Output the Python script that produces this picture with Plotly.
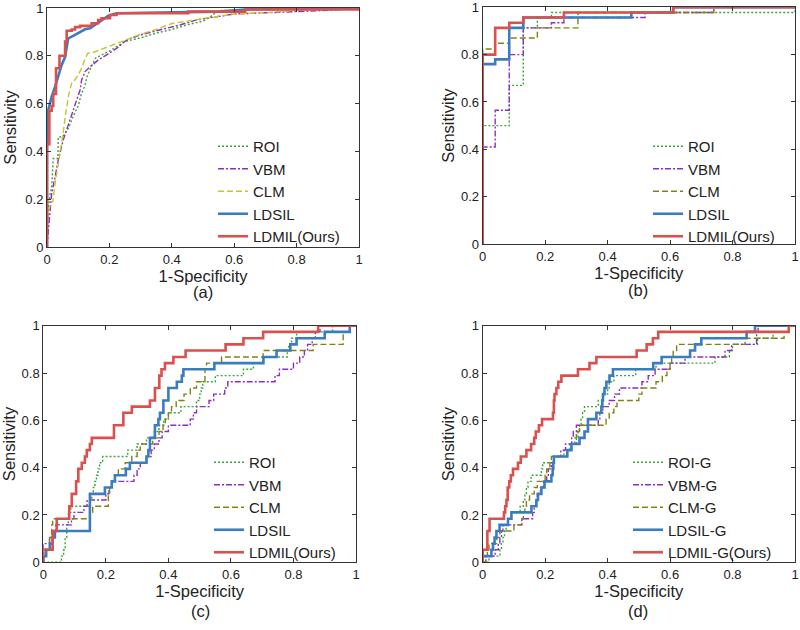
import plotly.graph_objects as go

# ---------------- data ----------------
methods = ["ROI", "VBM", "CLM", "LDSIL", "LDMIL(Ours)"]
methods_g = ["ROI-G", "VBM-G", "CLM-G", "LDSIL-G", "LDMIL-G(Ours)"]
panel_labels = ["(a)", "(b)", "(c)", "(d)"]
tick_vals = [0, 0.2, 0.4, 0.6, 0.8, 1]
tick_text = ["0", "0.2", "0.4", "0.6", "0.8", "1"]

# panel (a)
a_roi_x = [0, 0.003, 0.01, 0.015, 0.02, 0.035, 0.036, 0.047, 0.055, 0.07, 0.085, 0.1, 0.11, 0.12, 0.13, 0.14, 0.155, 0.17, 0.2, 0.25, 0.3, 0.35, 0.4, 0.45, 0.5, 0.52, 0.54, 0.56, 0.7, 0.8, 0.9, 1.0]
a_roi_y = [0, 0.15, 0.22, 0.25, 0.37, 0.37, 0.46, 0.46, 0.47, 0.5, 0.55, 0.59, 0.64, 0.67, 0.72, 0.75, 0.79, 0.8, 0.82, 0.86, 0.875, 0.895, 0.91, 0.93, 0.945, 0.96, 0.98, 0.99, 0.99, 0.993, 0.996, 1.0]
a_vbm_x = [0, 0.003, 0.009, 0.015, 0.026, 0.036, 0.052, 0.063, 0.079, 0.095, 0.106, 0.111, 0.122, 0.138, 0.164, 0.19, 0.223, 0.255, 0.298, 0.351, 0.426, 0.479, 0.55, 0.6, 0.7, 0.8, 0.9, 1.0]
a_vbm_y = [0, 0.05, 0.141, 0.225, 0.294, 0.364, 0.448, 0.49, 0.552, 0.615, 0.657, 0.699, 0.734, 0.754, 0.782, 0.803, 0.831, 0.866, 0.887, 0.905, 0.929, 0.95, 0.965, 0.975, 0.98, 0.985, 0.99, 1.0]
a_clm_x = [0, 0.003, 0.014, 0.019, 0.025, 0.03, 0.04, 0.05, 0.06, 0.07, 0.08, 0.09, 0.1, 0.11, 0.12, 0.13, 0.15, 0.17, 0.2, 0.25, 0.3, 0.35, 0.4, 0.45, 0.5, 0.55, 0.6, 0.7, 0.8, 0.9, 1.0]
a_clm_y = [0, 0.14, 0.19, 0.19, 0.26, 0.3, 0.37, 0.46, 0.56, 0.64, 0.69, 0.70, 0.72, 0.745, 0.78, 0.81, 0.815, 0.825, 0.84, 0.865, 0.89, 0.91, 0.935, 0.945, 0.955, 0.965, 0.975, 0.98, 0.99, 0.995, 1.0]
a_sil_x = [0, 0, 0.004, 0.015, 0.026, 0.036, 0.047, 0.058, 0.063, 0.068, 0.084, 0.1, 0.122, 0.138, 0.154, 0.175, 0.197, 0.223, 0.3, 0.55, 0.65, 1.0]
a_sil_y = [0, 0.44, 0.573, 0.629, 0.671, 0.72, 0.762, 0.796, 0.838, 0.873, 0.883, 0.894, 0.911, 0.915, 0.929, 0.95, 0.968, 0.978, 0.98, 0.985, 0.995, 1.0]
a_mil_x = [0, 0, 0.0075, 0.015, 0.02, 0.029, 0.04, 0.058, 0.063, 0.079, 0.09, 0.106, 0.143, 0.164, 0.175, 0.202, 0.223, 0.453, 0.635, 1.0]
a_mil_y = [0, 0.43, 0.57, 0.59, 0.64, 0.748, 0.80, 0.86, 0.905, 0.91, 0.92, 0.925, 0.936, 0.95, 0.957, 0.971, 0.978, 0.985, 0.994, 1.0]

# panel (b)  (x = where the step happens, y = sensitivity after the step)
b_roi_x = [0, 0, 0.085, 0.13, 0.175, 0.22, 1.0]
b_roi_y = [0, 0.5, 0.67, 0.913, 0.957, 0.978, 1.0]
b_vbm_x = [0, 0, 0.04, 0.085, 0.13, 0.22, 0.26, 0.52, 0.74, 1.0]
b_vbm_y = [0, 0.41, 0.565, 0.80, 0.913, 0.935, 0.957, 0.978, 1.0, 1.0]
b_clm_x = [0, 0, 0.04, 0.085, 0.175, 0.305, 0.74, 1.0]
b_clm_y = [0, 0.824, 0.848, 0.87, 0.913, 0.978, 1.0, 1.0]
b_sil_x = [0, 0, 0.04, 0.085, 0.13, 0.476, 0.61, 1.0]
b_sil_y = [0, 0.76, 0.78, 0.913, 0.957, 0.978, 1.0, 1.0]
b_mil_x = [0, 0, 0.04, 0.085, 0.13, 0.26, 0.61, 1.0]
b_mil_y = [0, 0.80, 0.913, 0.935, 0.957, 0.978, 1.0, 1.0]

# panel (c)
c_roi_x = [0, 0.058, 0.065, 0.07, 0.075, 0.08, 0.088, 0.15, 0.155, 0.16, 0.165, 0.17, 0.175, 0.18, 0.19, 0.27, 0.3, 0.33, 0.355, 0.37, 0.385, 0.4, 0.44, 0.49, 0.5, 0.505, 0.51, 0.55, 0.64, 0.672, 0.703, 0.78, 0.785, 0.794, 0.81, 0.925, 1.0]
c_roi_y = [0, 0.026, 0.053, 0.105, 0.158, 0.211, 0.237, 0.263, 0.289, 0.316, 0.342, 0.368, 0.395, 0.421, 0.447, 0.474, 0.5, 0.526, 0.553, 0.579, 0.605, 0.632, 0.658, 0.684, 0.711, 0.737, 0.763, 0.789, 0.816, 0.842, 0.868, 0.895, 0.921, 0.947, 0.974, 1.0, 1.0]
c_vbm_x = [0, 0, 0.02, 0.03, 0.04, 0.09, 0.098, 0.13, 0.14, 0.2, 0.21, 0.22, 0.29, 0.3, 0.31, 0.33, 0.345, 0.355, 0.37, 0.38, 0.4, 0.47, 0.48, 0.49, 0.53, 0.545, 0.58, 0.59, 0.741, 0.755, 0.8, 0.82, 0.835, 0.845, 0.86, 0.87, 0.885, 1.0]
c_vbm_y = [0, 0.079, 0.105, 0.132, 0.158, 0.184, 0.211, 0.237, 0.263, 0.289, 0.316, 0.342, 0.368, 0.395, 0.421, 0.447, 0.474, 0.5, 0.526, 0.553, 0.579, 0.605, 0.632, 0.658, 0.684, 0.711, 0.737, 0.763, 0.789, 0.816, 0.842, 0.868, 0.895, 0.921, 0.947, 0.974, 1.0, 1.0]
c_clm_x = [0, 0, 0.01, 0.02, 0.027, 0.03, 0.149, 0.158, 0.208, 0.212, 0.22, 0.229, 0.24, 0.262, 0.283, 0.3, 0.31, 0.35, 0.37, 0.383, 0.39, 0.4, 0.41, 0.425, 0.45, 0.47, 0.49, 0.517, 0.522, 0.57, 0.703, 0.863, 0.959, 0.98, 1.0]
c_clm_y = [0, 0.026, 0.053, 0.105, 0.158, 0.184, 0.211, 0.237, 0.289, 0.316, 0.342, 0.368, 0.395, 0.421, 0.447, 0.474, 0.5, 0.526, 0.553, 0.579, 0.605, 0.632, 0.658, 0.684, 0.711, 0.737, 0.763, 0.816, 0.842, 0.868, 0.895, 0.921, 0.974, 1.0, 1.0]
c_sil_x = [0, 0, 0.009, 0.021, 0.03, 0.037, 0.149, 0.197, 0.219, 0.229, 0.264, 0.277, 0.33, 0.336, 0.341, 0.357, 0.368, 0.373, 0.384, 0.4, 0.427, 0.443, 0.448, 0.547, 0.704, 0.746, 0.79, 0.81, 0.9, 0.98, 1.0]
c_sil_y = [0, 0.026, 0.053, 0.079, 0.105, 0.132, 0.289, 0.316, 0.342, 0.368, 0.395, 0.421, 0.447, 0.474, 0.526, 0.579, 0.605, 0.632, 0.684, 0.737, 0.763, 0.789, 0.816, 0.842, 0.868, 0.895, 0.921, 0.947, 0.974, 1.0, 1.0]
c_mil_x = [0, 0, 0.03, 0.043, 0.083, 0.091, 0.105, 0.112, 0.123, 0.133, 0.139, 0.149, 0.155, 0.226, 0.256, 0.283, 0.341, 0.357, 0.371, 0.378, 0.389, 0.416, 0.455, 0.583, 0.64, 0.703, 0.879, 1.0]
c_mil_y = [0, 0.053, 0.132, 0.184, 0.237, 0.289, 0.342, 0.395, 0.421, 0.447, 0.474, 0.5, 0.526, 0.579, 0.632, 0.658, 0.684, 0.737, 0.789, 0.816, 0.842, 0.868, 0.895, 0.921, 0.947, 0.974, 1.0, 1.0]

# panel (d)
d_roi_x = [0, 0.02, 0.055, 0.06, 0.065, 0.07, 0.075, 0.08, 0.09, 0.12, 0.13, 0.135, 0.14, 0.145, 0.155, 0.188, 0.192, 0.228, 0.26, 0.28, 0.3, 0.305, 0.31, 0.315, 0.32, 0.326, 0.37, 0.385, 0.4, 0.405, 0.42, 0.49, 0.555, 0.744, 0.79, 0.8, 0.88, 0.93, 0.98, 1.0]
d_roi_y = [0, 0.026, 0.053, 0.079, 0.105, 0.132, 0.158, 0.184, 0.211, 0.237, 0.263, 0.289, 0.316, 0.342, 0.368, 0.395, 0.421, 0.447, 0.474, 0.5, 0.526, 0.553, 0.579, 0.605, 0.632, 0.658, 0.684, 0.711, 0.737, 0.763, 0.789, 0.816, 0.842, 0.868, 0.895, 0.921, 0.947, 0.974, 1.0, 1.0]
d_vbm_x = [0, 0.01, 0.04, 0.05, 0.055, 0.06, 0.065, 0.125, 0.16, 0.165, 0.17, 0.175, 0.185, 0.195, 0.205, 0.21, 0.22, 0.228, 0.25, 0.265, 0.285, 0.29, 0.3, 0.37, 0.375, 0.385, 0.405, 0.422, 0.438, 0.51, 0.53, 0.552, 0.6, 0.648, 0.776, 0.797, 0.877, 0.882, 1.0]
d_vbm_y = [0, 0.026, 0.053, 0.079, 0.105, 0.132, 0.158, 0.184, 0.211, 0.237, 0.263, 0.289, 0.316, 0.342, 0.368, 0.395, 0.421, 0.447, 0.474, 0.5, 0.526, 0.553, 0.579, 0.605, 0.632, 0.658, 0.684, 0.711, 0.737, 0.763, 0.789, 0.816, 0.842, 0.868, 0.895, 0.921, 0.974, 1.0, 1.0]
d_clm_x = [0, 0.01, 0.015, 0.02, 0.045, 0.055, 0.1, 0.125, 0.13, 0.135, 0.14, 0.15, 0.165, 0.175, 0.2, 0.205, 0.215, 0.22, 0.27, 0.285, 0.295, 0.3, 0.31, 0.395, 0.405, 0.42, 0.43, 0.5, 0.51, 0.555, 0.575, 0.59, 0.6, 0.605, 0.61, 0.621, 0.84, 0.965, 0.98, 1.0]
d_clm_y = [0, 0.026, 0.053, 0.079, 0.105, 0.132, 0.158, 0.184, 0.211, 0.237, 0.263, 0.289, 0.316, 0.342, 0.368, 0.395, 0.421, 0.447, 0.474, 0.5, 0.526, 0.553, 0.579, 0.605, 0.632, 0.658, 0.684, 0.711, 0.737, 0.763, 0.789, 0.816, 0.842, 0.868, 0.895, 0.921, 0.947, 0.974, 1.0, 1.0]
d_sil_x = [0, 0, 0.028, 0.033, 0.038, 0.044, 0.054, 0.081, 0.092, 0.156, 0.172, 0.177, 0.188, 0.198, 0.22, 0.224, 0.226, 0.228, 0.271, 0.284, 0.31, 0.326, 0.337, 0.364, 0.38, 0.383, 0.385, 0.39, 0.396, 0.406, 0.417, 0.546, 0.573, 0.664, 0.68, 0.7, 0.845, 0.872, 1.0]
d_sil_y = [0, 0.026, 0.053, 0.079, 0.105, 0.132, 0.158, 0.184, 0.211, 0.237, 0.263, 0.289, 0.316, 0.342, 0.368, 0.395, 0.421, 0.447, 0.474, 0.5, 0.526, 0.553, 0.605, 0.632, 0.658, 0.684, 0.711, 0.737, 0.763, 0.789, 0.816, 0.842, 0.868, 0.895, 0.921, 0.947, 0.974, 1.0, 1.0]
d_mil_x = [0, 0, 0.015, 0.022, 0.068, 0.072, 0.076, 0.08, 0.085, 0.09, 0.097, 0.113, 0.122, 0.14, 0.155, 0.165, 0.17, 0.18, 0.19, 0.225, 0.228, 0.23, 0.236, 0.242, 0.252, 0.305, 0.342, 0.364, 0.493, 0.525, 0.545, 0.562, 0.98, 1.0]
d_mil_y = [0, 0.053, 0.132, 0.184, 0.211, 0.237, 0.263, 0.316, 0.342, 0.368, 0.395, 0.421, 0.447, 0.474, 0.5, 0.526, 0.553, 0.579, 0.605, 0.632, 0.684, 0.711, 0.737, 0.763, 0.789, 0.816, 0.842, 0.868, 0.895, 0.921, 0.947, 0.974, 1.0, 1.0]

# ---------------- styling ----------------
FONT = "Liberation Sans, Arial, Helvetica, sans-serif"
C_ROI = "#3aa63a"
C_VBM = "#8e2fc0"
C_CLM_A = "#c3c72c"
C_CLM = "#818114"
C_SIL = "#3a7dbf"
C_MIL = "#d9514e"

styles = [
    dict(color=C_ROI, width=1.4, dash="2px,2px"),
    dict(color=C_VBM, width=1.4, dash="6px,2px,2px,2px"),
    dict(color=C_CLM, width=1.4, dash="6px,3px"),
    dict(color=C_SIL, width=2.6, dash="solid"),
    dict(color=C_MIL, width=2.6, dash="solid"),
]

panels = [
    dict(data=[(a_roi_x, a_roi_y), (a_vbm_x, a_vbm_y), (a_clm_x, a_clm_y), (a_sil_x, a_sil_y), (a_mil_x, a_mil_y)],
         names=methods, shape=["linear", "linear", "linear", "linear", "hv"], clm=C_CLM_A,
         dom_x=[47 / 800, 359 / 800], dom_y=[1 - 247 / 630, 1 - 8 / 630], legend="legend",
         leg_x=213 / 800, leg_y=1 - 130 / 630, lab=(203, 292), ystand=4),
    dict(data=[(b_roi_x, b_roi_y), (b_vbm_x, b_vbm_y), (b_clm_x, b_clm_y), (b_sil_x, b_sil_y), (b_mil_x, b_mil_y)],
         names=methods, shape=["hv"] * 5, clm=C_CLM,
         dom_x=[482.7 / 800, 795 / 800], dom_y=[1 - 244 / 630, 1 - 7.3 / 630], legend="legend2",
         leg_x=648 / 800, leg_y=1 - 130 / 630, lab=(638, 290), ystand=2),
    dict(data=[(c_roi_x, c_roi_y), (c_vbm_x, c_vbm_y), (c_clm_x, c_clm_y), (c_sil_x, c_sil_y), (c_mil_x, c_mil_y)],
         names=methods, shape=["hv"] * 5, clm=C_CLM,
         dom_x=[43.3 / 800, 356 / 800], dom_y=[1 - 562.3 / 630, 1 - 325.7 / 630], legend="legend3",
         leg_x=209 / 800, leg_y=1 - 446 / 630, lab=(200, 611), ystand=6),
    dict(data=[(d_roi_x, d_roi_y), (d_vbm_x, d_vbm_y), (d_clm_x, d_clm_y), (d_sil_x, d_sil_y), (d_mil_x, d_mil_y)],
         names=methods_g, shape=["hv"] * 5, clm=C_CLM,
         dom_x=[482.7 / 800, 795 / 800], dom_y=[1 - 562.3 / 630, 1 - 325.7 / 630], legend="legend4",
         leg_x=628 / 800, leg_y=1 - 446 / 630, lab=(638, 611), ystand=2),
]

fig = go.Figure()
layout = dict(
    width=800, height=630,
    margin=dict(l=0, r=0, t=0, b=0, autoexpand=False),
    paper_bgcolor="white", plot_bgcolor="white",
    font=dict(family=FONT, color="#222222", size=13),
    annotations=[],
)

for i, p in enumerate(panels):
    n = i + 1
    xa = "x" if n == 1 else f"x{n}"
    ya = "y" if n == 1 else f"y{n}"
    for j, ((xs, ys), name) in enumerate(zip(p["data"], p["names"])):
        st = dict(styles[j])
        if j == 2:
            st["color"] = p["clm"]
        fig.add_trace(go.Scatter(
            x=xs, y=ys, mode="lines", name=name, line=dict(shape=p["shape"][j], **st),
            xaxis=xa, yaxis=ya, legend=p["legend"], showlegend=True,
        ))
    axis_common = dict(
        range=[0, 1], tickvals=tick_vals, ticktext=tick_text, automargin=False,
        showline=True, linecolor="#333333", linewidth=1, mirror="ticks",
        ticks="inside", ticklen=4, tickcolor="#333333", showgrid=False, zeroline=False,
        ticklabeloverflow="allow",
        tickfont=dict(family=FONT, size=13, color="#222222"),
    )
    layout["xaxis" if n == 1 else f"xaxis{n}"] = dict(
        axis_common, domain=p["dom_x"], anchor=ya,
        title=dict(text="1-Specificity", font=dict(family=FONT, size=16.5, color="#222222"), standoff=4),
    )
    layout["yaxis" if n == 1 else f"yaxis{n}"] = dict(
        axis_common, domain=p["dom_y"], anchor=xa,
        title=dict(text="Sensitivity", font=dict(family=FONT, size=16.5, color="#222222"), standoff=p["ystand"]),
    )
    layout[p["legend"]] = dict(
        x=p["leg_x"], y=p["leg_y"], xanchor="left", yanchor="top",
        bgcolor="rgba(0,0,0,0)", borderwidth=0,
        font=dict(family=FONT, size=15, color="#222222"),
    )
    layout["annotations"].append(dict(
        text=panel_labels[i], x=p["lab"][0] / 800, y=1 - p["lab"][1] / 630,
        xref="paper", yref="paper", showarrow=False, xanchor="center", yanchor="middle",
        font=dict(family=FONT, size=16.5, color="#222222"),
    ))

fig.update_layout(**layout)
fig.write_html(
    "out.html",
    config={"displayModeBar": False, "staticPlot": True},
    post_script="document.body.style.margin='0px';document.body.style.overflow='hidden';",
)
